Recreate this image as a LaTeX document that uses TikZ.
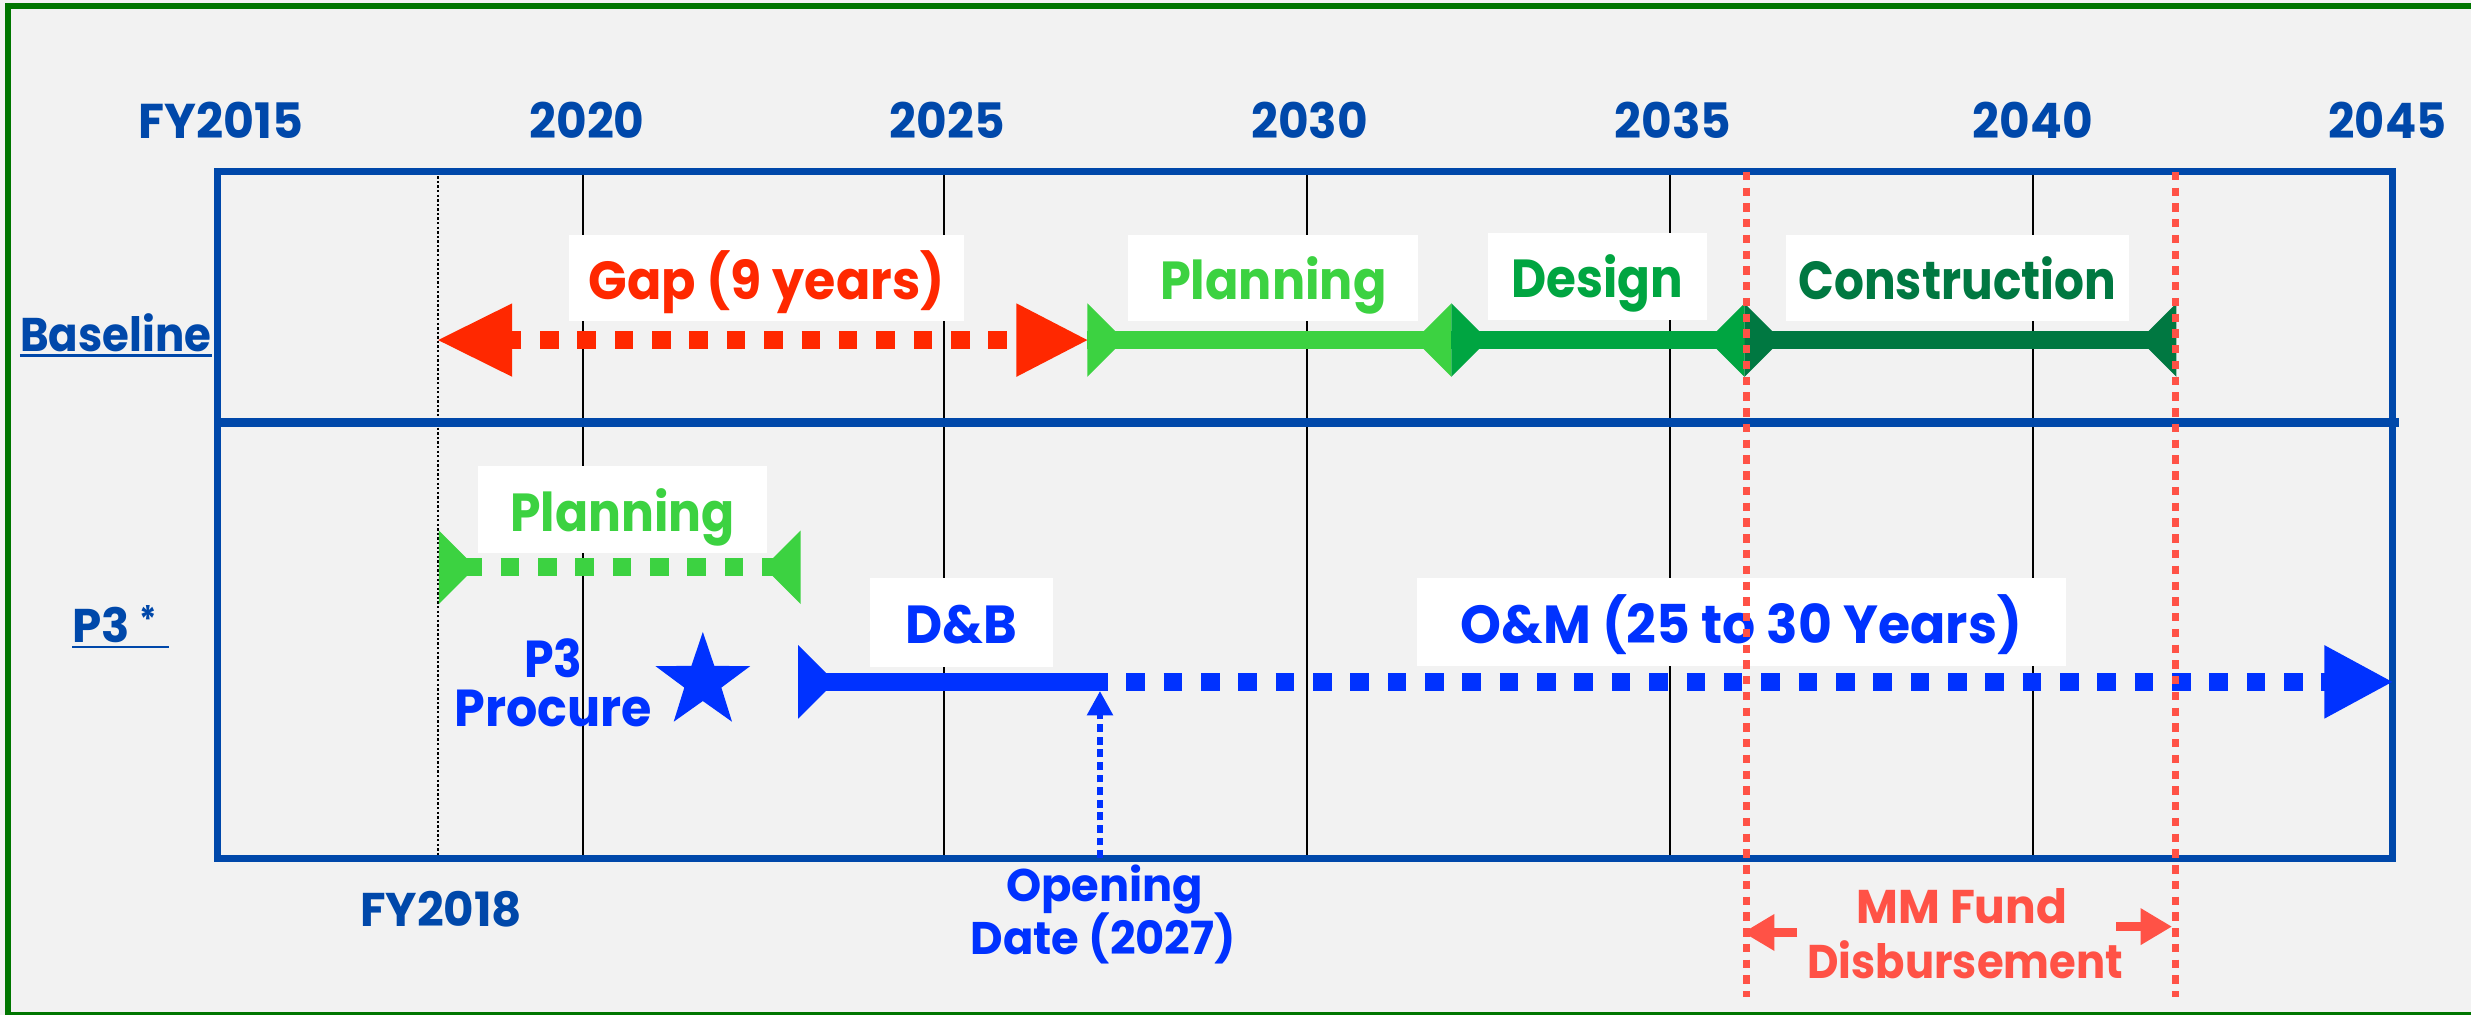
\documentclass[tikz,border=0pt]{standalone}
\usepackage{graphicx}
\usepackage{fontspec}
\setmainfont{Poppins}[FakeStretch=0.86]
\usetikzlibrary{arrows.meta,shapes.geometric}

\definecolor{bgGray}{RGB}{242,242,242}
\definecolor{frameGreen}{RGB}{0,118,0}
\definecolor{axisBlue}{RGB}{0,72,170}
\definecolor{gapRed}{RGB}{255,40,0}
\definecolor{fundRed}{RGB}{255,82,70}
\definecolor{planGreen}{RGB}{60,210,65}
\definecolor{desGreen}{RGB}{0,165,65}
\definecolor{conGreen}{RGB}{0,120,65}
\definecolor{pppBlue}{RGB}{0,50,255}

\newcommand{\fsz}[1]{\fontsize{#1}{#1}\selectfont}
% horizontal widening of a label
\newcommand{\wx}[2]{\scalebox{#1}[1]{#2}}
% inward-pointing markers at the two ends of a phase bar
\newcommand{\barstartmark}[2]{\fill[#2] ([yshift=23.3pt]#1) -- ([xshift=23.3pt]#1) -- ([yshift=-23.3pt]#1) -- cycle;}
\newcommand{\barstopmark}[2]{\fill[#2] ([yshift=23.3pt]#1) -- ([xshift=-23.3pt]#1) -- ([yshift=-23.3pt]#1) -- cycle;}
% large arrowheads, tip at the named point
\newcommand{\tipright}[3]{\fill[#2] (#1) -- ([xshift=-#3pt,yshift=23.3pt]#1) -- ([xshift=-#3pt,yshift=-23.3pt]#1) -- cycle;}
\newcommand{\tipleft}[3]{\fill[#2] (#1) -- ([xshift=#3pt,yshift=23.3pt]#1) -- ([xshift=#3pt,yshift=-23.3pt]#1) -- cycle;}

\begin{document}
\begin{tikzpicture}[x=1pt,y=-1pt,
  yearlbl/.style={font=\bfseries\fsz{31}, text=axisBlue, anchor=base, inner sep=0pt},
  rowlbl/.style={font=\bfseries\fsz{30}, text=axisBlue, anchor=base, inner sep=0pt},
  tag/.style={fill=white, inner sep=0pt, text height=27pt, text depth=0pt, font=\bfseries\fsz{34}},
  note/.style={font=\bfseries\fsz{30}, anchor=base, inner sep=0pt},
  gridline/.style={black, line width=1.3pt},
  solidbar/.style={line width=11.5pt},
  dotbar/.style={line width=11.5pt, dash pattern=on 11.8pt off 11.9pt},
  fundline/.style={fundRed, line width=4.5pt, dash pattern=on 5.3pt off 4.7pt},
  fundarrow/.style={fundRed, line width=6pt, -{Triangle[length=20pt,width=22pt]}}]

\useasboundingbox (0,0) rectangle (1568,644);
\clip (0,0) rectangle (1568,644);
\fill[bgGray] (0,0) rectangle (1568,644);
\draw[frameGreen, line width=4pt] (1600,4) -- (5,4) -- (5,644) -- (1600,644);

% year grid
\foreach \gx in {370,599,829.5,1059.5,1290}
  \draw[gridline] (\gx,109) -- (\gx,544.5);
\draw[black, line width=1.3pt, dash pattern=on 1.5pt off 1.4pt] (278,109) -- (278,544.5);

% chart frame and row divider
\draw[axisBlue, line width=4.5pt] (138,109) rectangle (1518,544.5);
\draw[axisBlue, line width=5.5pt] (138,268) -- (1522,268);

% year labels
\node[yearlbl] (y2015) at (140,88) {\wx{1.13}{FY2015}};
\node[yearlbl] (y2020) at (372.5,88) {\wx{1.12}{2020}};
\node[yearlbl] (y2025) at (601,88) {\wx{1.12}{2025}};
\node[yearlbl] (y2030) at (831,88) {\wx{1.12}{2030}};
\node[yearlbl] (y2035) at (1061.5,88) {\wx{1.12}{2035}};
\node[yearlbl] (y2040) at (1290,88) {\wx{1.12}{2040}};
\node[yearlbl] (y2045) at (1515,88) {\wx{1.1}{2045}};
\node[rowlbl] (y2018) at (280,588) {\wx{1.15}{FY2018}};

% row labels
\node[rowlbl] (baseLbl) at (73.5,223) {\wx{1.07}{Baseline}};
\draw[axisBlue, line width=1.6pt] ([yshift=-2.6pt]baseLbl.base west) -- ([yshift=-2.6pt]baseLbl.base east);
\node[rowlbl, anchor=base west] (pppLbl) at (46,408) {\wx{1.15}{P3}\hspace{6pt}\raisebox{6pt}{\fsz{24}*}};
\draw[axisBlue, line width=1.6pt] ([yshift=-2.6pt]pppLbl.base west) -- ([xshift=61pt,yshift=-2.6pt]pppLbl.base west);

% phase labels
\node[tag, text=gapRed, minimum width=251pt, minimum height=55pt] (gapTag) at (486.5,176.5) {\wx{1.1}{Gap (9 years)}};
\node[tag, text=planGreen, minimum width=184pt, minimum height=55pt] (planTag) at (808,176.5) {\wx{1.07}{Planning}};
\node[tag, text=desGreen, minimum width=139pt, minimum height=55pt] (desTag) at (1013.5,175.5) {\wx{1.05}{Design}};
\node[tag, text=conGreen, minimum width=218pt, minimum height=55pt] (conTag) at (1242,176.5) {\wx{1.02}{Construction}};
\node[tag, text=planGreen, minimum width=184pt, minimum height=55pt] (pPlanTag) at (395,323.5) {\wx{1.06}{Planning}};
\node[tag, text=pppBlue, minimum width=116pt, minimum height=56pt] (dbTag) at (610,395) {\wx{1.11}{D\&B}};
\node[tag, text=pppBlue, minimum width=412pt, minimum height=56pt] (omTag) at (1105,394.8) {\wx{1.13}{O\&M (25 to 30 Years)}};

% baseline schedule
\coordinate (gapL) at (278,215.8);
\coordinate (gapR) at (690,215.8);
\coordinate (planA) at (690,215.8);
\coordinate (planB) at (921,215.8);
\coordinate (desB) at (1107,215.8);
\coordinate (conB) at (1381,215.8);
\draw[gapRed, dotbar] (319,215.8) -- (645,215.8);
\tipleft{gapL}{gapRed}{47}
\tipright{gapR}{gapRed}{45}
\draw[planGreen, solidbar] (planA) -- (planB);
\barstartmark{planA}{planGreen}
\barstopmark{planB}{planGreen}
\draw[desGreen, solidbar] (planB) -- (desB);
\barstartmark{planB}{desGreen}
\barstopmark{desB}{desGreen}
\draw[conGreen, solidbar] (desB) -- (conB);
\barstartmark{desB}{conGreen}
\barstopmark{conB}{conGreen}

% P3 schedule
\coordinate (pPlanA) at (278.5,360);
\coordinate (pPlanB) at (508,360);
\coordinate (dbA) at (506.5,432.7);
\coordinate (dbB) at (698,432.7);
\coordinate (omTip) at (1518,432.7);
\draw[planGreen, dotbar] (294,360) -- (494,360);
\barstartmark{pPlanA}{planGreen}
\barstopmark{pPlanB}{planGreen}
\draw[pppBlue, solidbar] (dbA) -- (dbB);
\barstartmark{dbA}{pppBlue}
\draw[pppBlue, dotbar] (691,432.7) -- (1476,432.7);
\tipright{omTip}{pppBlue}{43}

\node[star, star points=5, star point ratio=2.55, minimum size=63pt, inner sep=0pt, fill=pppBlue] (pppStar) at (446,432.5) {};
\node[note, text=pppBlue, font=\bfseries\fsz{33}] (procA) at (351,430) {\wx{1.06}{P3}};
\node[note, text=pppBlue, font=\bfseries\fsz{33}] (procB) at (351,461) {\wx{1.1}{Procure}};

% opening date
\coordinate (openFoot) at (698,544.5);
\coordinate (openHead) at (698,438.5);
\draw[pppBlue, line width=3.3pt, dash pattern=on 5pt off 3pt, -{Triangle[length=15.5pt,width=16pt]}] (openFoot) -- (openHead);
\node[note, text=pppBlue, font=\bfseries\fsz{29}] (openA) at (701,572) {\wx{1.14}{Opening}};
\node[note, text=pppBlue, font=\bfseries\fsz{29}] (openB) at (700,606) {\wx{1.14}{Date (2027)}};

% MM fund disbursement window
\coordinate (fundL) at (1108.3,109);
\coordinate (fundR) at (1380.6,109);
\coordinate (fundLb) at (1108.3,632.4);
\coordinate (fundRb) at (1380.6,632.4);
\draw[fundline] (fundL) -- (fundLb);
\draw[fundline] (fundR) -- (fundRb);
\coordinate (fundArrL0) at (1140.5,591.7);
\coordinate (fundArrL1) at (1106,591.7);
\coordinate (fundArrR0) at (1343,588);
\coordinate (fundArrR1) at (1378.3,588);
\draw[fundarrow] (fundArrL0) -- (fundArrL1);
\draw[fundarrow] (fundArrR0) -- (fundArrR1);
\node[note, text=fundRed] (mmA) at (1245,586) {\wx{1.12}{MM Fund}};
\node[note, text=fundRed] (mmB) at (1247,620.7) {\wx{1.065}{Disbursement}};

\end{tikzpicture}
\end{document}
